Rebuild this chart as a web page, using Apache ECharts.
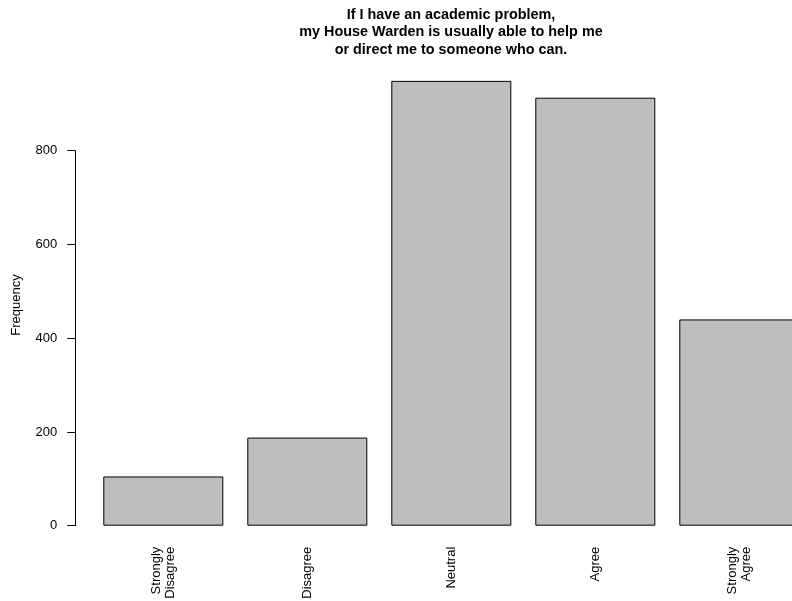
<!DOCTYPE html>
<html>
<head>
<meta charset="utf-8">
<script src="https://cdn.jsdelivr.net/npm/echarts@6/dist/echarts.min.js"></script>
<style>
html,body{margin:0;padding:0;background:#fff;}
#chart{width:792px;height:601px;}
</style>
</head>
<body>
<div id="chart"></div>
<script>
var categories = ["Strongly\nDisagree", "Disagree", "Neutral", "Agree", "Strongly\nAgree"];
var frequencies = [105, 188, 949, 913, 440];
var yTicks = [0, 200, 400, 600, 800];
var titleLines = ["If I have an academic problem,", "my House Warden is usually able to help me", "or direct me to someone who can."];
var yLabel = "Frequency";

var FONT = "'Liberation Sans', Arial, Helvetica, sans-serif";
var chart = echarts.init(document.getElementById('chart'), null, {renderer: 'canvas'});
chart.setOption({
  animation: false,
  backgroundColor: '#ffffff',
  grid: {left: 91.3, top: 150.7, width: 720, bottom: 75.3, containLabel: false, outerBoundsMode: 'none'},
  xAxis: {
    type: 'category',
    data: categories,
    axisLine: {show: false},
    axisTick: {show: false},
    axisLabel: {rotate: 90, margin: 21, fontSize: 13, lineHeight: 14, color: '#000', fontFamily: FONT, interval: 0}
  },
  yAxis: {
    type: 'value',
    min: yTicks[0],
    max: yTicks[yTicks.length - 1],
    interval: 200,
    offset: 16,
    splitLine: {show: false},
    axisLine: {show: true, lineStyle: {color: '#000', width: 1}},
    axisTick: {show: true, length: 8, lineStyle: {color: '#000', width: 1}},
    axisLabel: {margin: 18, fontSize: 13, color: '#000', fontFamily: FONT}
  },
  series: [{
    type: 'bar',
    data: frequencies,
    barWidth: 120,
    clip: false,
    itemStyle: {color: '#BEBEBE', borderColor: '#000', borderWidth: 1}
  }],
  graphic: [
    {
      type: 'text',
      x: 451, y: 32.5,
      style: {
        text: titleLines.join('\n'),
        align: 'center', verticalAlign: 'middle',
        font: 'bold 14.4px ' + FONT,
        lineHeight: 17.3,
        fill: '#000'
      }
    },
    {
      type: 'text',
      x: 16, y: 305,
      rotation: Math.PI / 2,
      style: {
        text: yLabel,
        align: 'center', verticalAlign: 'middle',
        font: '13px ' + FONT,
        fill: '#000'
      }
    }
  ]
});
</script>
</body>
</html>
